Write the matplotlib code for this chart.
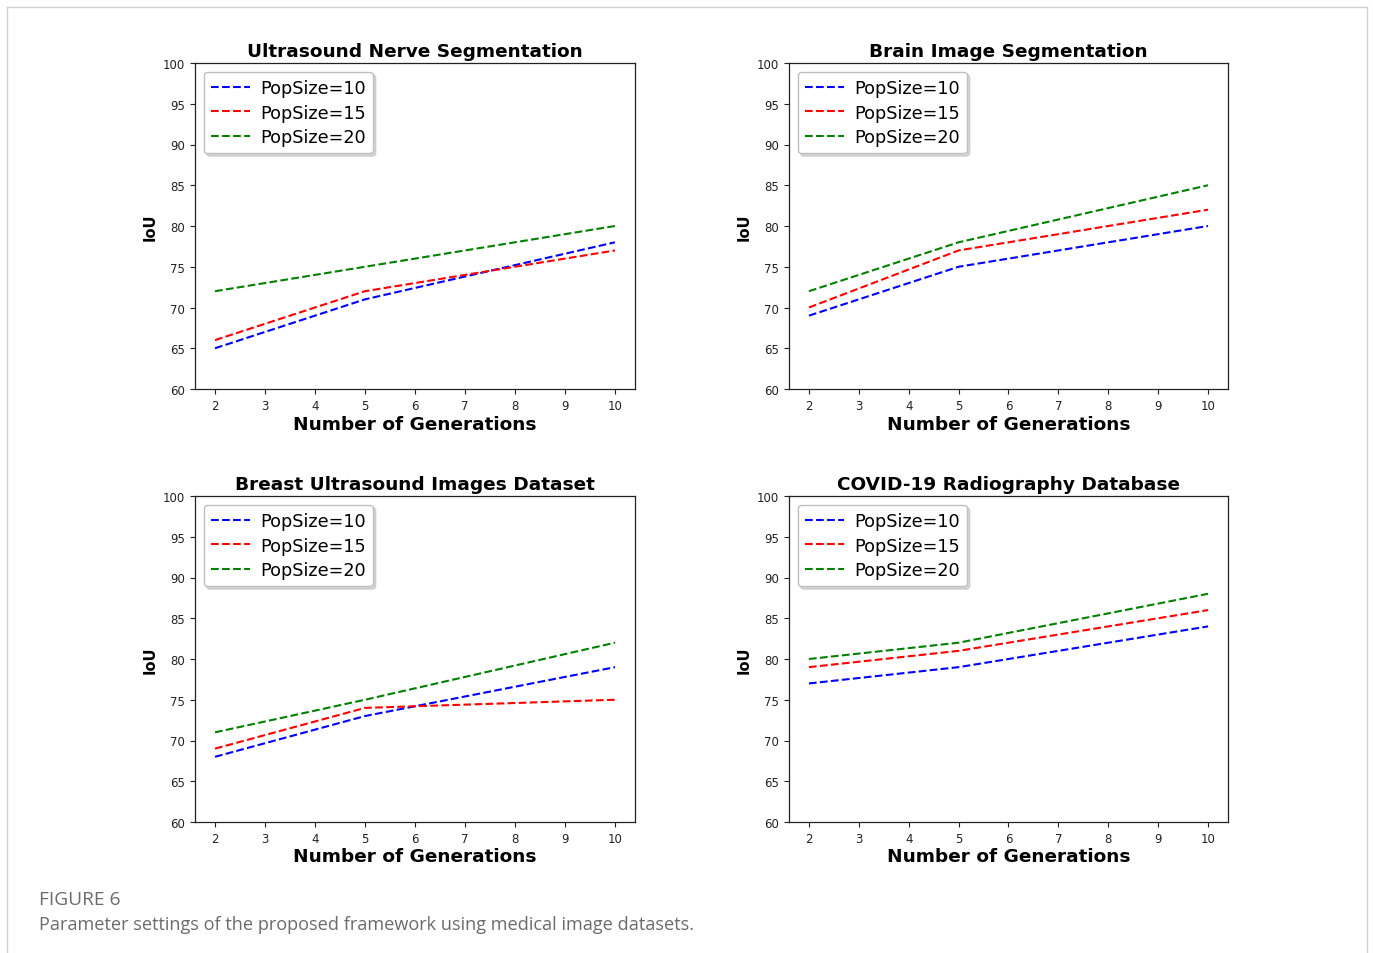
import matplotlib
matplotlib.use("Agg")
import matplotlib.pyplot as plt
from matplotlib.lines import Line2D

generations = [2, 5, 10]
labels = ["PopSize=10", "PopSize=15", "PopSize=20"]
colors = ["blue", "red", "green"]

titles = ["Ultrasound Nerve Segmentation", "Brain Image Segmentation",
          "Breast Ultrasound Images Dataset", "COVID-19 Radiography Database"]

ultrasound_10 = [65, 71, 78]
ultrasound_15 = [66, 72, 77]
ultrasound_20 = [72, 75, 80]

brain_10 = [69, 75, 80]
brain_15 = [70, 77, 82]
brain_20 = [72, 78, 85]

breast_10 = [68, 73, 79]
breast_15 = [69, 74, 75]
breast_20 = [71, 75, 82]

covid_10 = [77, 79, 84]
covid_15 = [79, 81, 86]
covid_20 = [80, 82, 88]

datasets = [
    [ultrasound_10, ultrasound_15, ultrasound_20],
    [brain_10, brain_15, brain_20],
    [breast_10, breast_15, breast_20],
    [covid_10, covid_15, covid_20],
]

x_ticks = [2, 3, 4, 5, 6, 7, 8, 9, 10]
y_ticks = [60, 65, 70, 75, 80, 85, 90, 95, 100]

fig = plt.figure(figsize=(13.73, 9.54), dpi=100)

W, H = 1373, 954
boxes = [
    (195, 64, 635, 390),
    (789, 64, 1228, 390),
    (195, 497, 635, 823),
    (789, 497, 1228, 823),
]

for i, (x0, y0, x1, y1) in enumerate(boxes):
    ax = fig.add_axes([x0 / W, 1 - y1 / H, (x1 - x0) / W, (y1 - y0) / H])
    for series, lab, col in zip(datasets[i], labels, colors):
        ax.plot(generations, series, linestyle="--", color=col, linewidth=1.5, label=lab)
    ax.set_ylim(60, 100)
    ax.set_xlim(1.6, 10.4)
    ax.set_xticks(x_ticks)
    ax.set_yticks(y_ticks)
    ax.tick_params(labelsize=8.5, length=3.5, colors="#222222", labelcolor="#222222")
    ax.set_title(titles[i], fontsize=13.3, fontweight="bold", pad=5)
    ax.set_xlabel("Number of Generations", fontsize=13.3, fontweight="bold", labelpad=2)
    ax.set_ylabel("IoU", fontsize=10.5, fontweight="bold", labelpad=4)
    ax.legend(loc="upper left", fontsize=12.7, shadow={"color": "0.7"}, fancybox=True,
              handlelength=2.2, handletextpad=0.6, borderpad=0.4, labelspacing=0.38,
              edgecolor="0.75")
    for sp in ax.spines.values():
        sp.set_linewidth(0.9)
        sp.set_color("#222222")

# outer frame
frame_col = "#d0d0d0"
fig.add_artist(Line2D([7 / W, 7 / W], [0, 1 - 8 / H], transform=fig.transFigure, color=frame_col, linewidth=1))
fig.add_artist(Line2D([1367 / W, 1367 / W], [0, 1 - 8 / H], transform=fig.transFigure, color=frame_col, linewidth=1))
fig.add_artist(Line2D([7 / W, 1367 / W], [1 - 8 / H, 1 - 8 / H], transform=fig.transFigure, color=frame_col, linewidth=1))

fig.text(39 / W, 1 - 900 / H, "FIGURE 6", fontsize=13.8, color="#6b6b6b",
         family="Open Sans", va="center", ha="left")
fig.text(39 / W, 1 - 925 / H, "Parameter settings of the proposed framework using medical image datasets.",
         fontsize=13.1, color="#6b6b6b", family="Open Sans", va="center", ha="left")

fig.savefig("out.png", dpi=100)
